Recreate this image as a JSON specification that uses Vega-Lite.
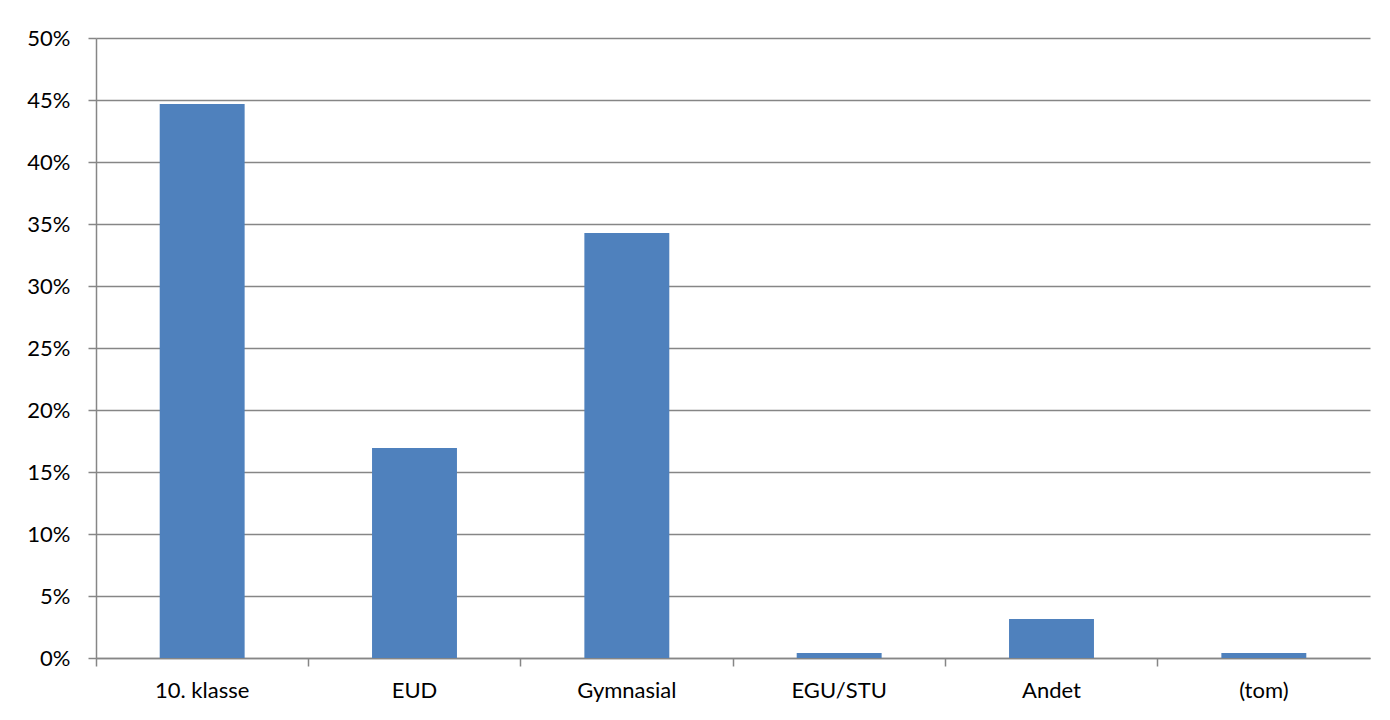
{
  "$schema": "https://vega.github.io/schema/vega-lite/v6.json",
  "width": 1274,
  "height": 620,
  "autosize": {"type": "none"},
  "padding": {"left": 96, "top": 38, "right": 20, "bottom": 62},
  "background": "white",
  "config": {
    "view": {"stroke": null},
    "font": "Lato",
    "axis": {
      "labelFont": "Lato",
      "labelFontSize": 22,
      "labelFontWeight": "normal",
      "labelColor": "#000000",
      "domainColor": "#868686",
      "domainWidth": 1.5,
      "tickColor": "#868686",
      "tickWidth": 1.5,
      "tickSize": 8,
      "gridColor": "#868686",
      "gridWidth": 1.3
    }
  },
  "data": {
    "values": [
      {"kategori": "10. klasse", "andel": 0.4468},
      {"kategori": "EUD", "andel": 0.1694},
      {"kategori": "Gymnasial", "andel": 0.3427},
      {"kategori": "EGU/STU", "andel": 0.004},
      {"kategori": "Andet", "andel": 0.0315},
      {"kategori": "(tom)", "andel": 0.004}
    ]
  },
  "mark": {"type": "bar", "color": "#4F81BD", "width": {"band": 0.4}},
  "encoding": {
    "x": {
      "field": "kategori",
      "type": "nominal",
      "sort": null,
      "scale": {"paddingInner": 0, "paddingOuter": 0},
      "axis": {
        "title": null,
        "labelAngle": 0,
        "labelPadding": 14,
        "bandPosition": 0,
        "grid": false,
        "ticks": true
      }
    },
    "y": {
      "field": "andel",
      "type": "quantitative",
      "scale": {"domain": [0, 0.5], "nice": false},
      "axis": {
        "title": null,
        "format": ".0%",
        "values": [0, 0.05, 0.1, 0.15, 0.2, 0.25, 0.3, 0.35, 0.4, 0.45, 0.5],
        "labelPadding": 18,
        "grid": true
      }
    }
  }
}
